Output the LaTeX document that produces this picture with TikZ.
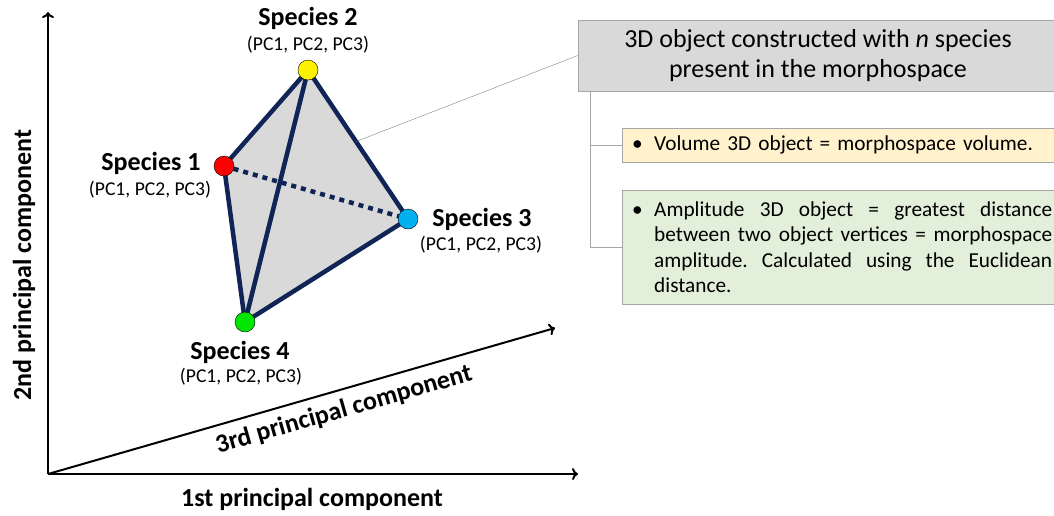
\documentclass[tikz,border=0pt]{standalone}
\usepackage{fontspec}
\setmainfont{Carlito}
\usetikzlibrary{arrows.meta,calc}
\frenchspacing
\definecolor{navy}{RGB}{16,36,86}
\definecolor{facegray}{RGB}{217,217,217}
\definecolor{boxgray}{RGB}{166,166,166}
\definecolor{notebuff}{RGB}{255,242,204}
\definecolor{notegreen}{RGB}{226,239,218}
\definecolor{spblue}{RGB}{0,176,240}
\definecolor{spgreen}{RGB}{0,230,0}
\tikzset{
  spdot/.style={circle,draw=black,thin,minimum size=20pt,inner sep=0pt},
  spname/.style={font=\fontsize{26}{28}\selectfont\bfseries},
  spcoord/.style={font=\fontsize{19.6}{21}\selectfont},
  axislabel/.style={font=\fontsize{26}{28}\selectfont\bfseries},
  edgeline/.style={draw=navy,line width=4.5pt,line cap=round,line join=round},
  notebox/.style={draw=boxgray,anchor=west,minimum width=440pt,inner xsep=10pt,inner ysep=4pt,
    text width=420pt,font=\fontsize{21.3}{25.5}\selectfont},
}
\begin{document}
\begin{tikzpicture}[x=1pt,y=-1pt]
\useasboundingbox (0,0) rectangle (1054,515);
% axes
\coordinate (o) at (48,474);
\coordinate (yend) at (48,12);
\coordinate (xend) at (578,474);
\coordinate (zend) at (555,328);
\draw[line width=2pt,-{To[length=6pt,width=12pt]}] (o) -- (yend);
\draw[line width=2pt,-{To[length=6pt,width=12pt]}] (o) -- (xend);
\draw[line width=2pt,-{To[length=6pt,width=12pt]}] (o) -- (zend);
\node[axislabel] (xlab) at (312,499) {1st principal component};
\node[axislabel,rotate=90] (ylab) at (24,265) {2nd principal component};
\node[axislabel,rotate=16] (zlab) at (344,410) {3rd principal component};
% tetrahedron
\coordinate (p1) at (224,166);
\coordinate (p2) at (308,70);
\coordinate (p3) at (408,219);
\coordinate (p4) at (245,322);
\fill[facegray] (p1) -- (p2) -- (p3) -- (p4) -- cycle;
\draw[edgeline,dash pattern=on 5pt off 5pt,line cap=butt] (p1) -- (p3);
\draw[edgeline] (p1) -- (p2) -- (p3) -- (p4) -- cycle;
\draw[edgeline] (p2) -- (p4);
\node[spdot,fill=red] (s1) at (p1) {};
\node[spdot,fill=yellow] (s2) at (p2) {};
\node[spdot,fill=spblue] (s3) at (p3) {};
\node[spdot,fill=spgreen] (s4) at (p4) {};
\node[spname] (n1) at (151,163) {Species 1};
\node[spcoord] (c1) at (150,190) {(PC1, PC2, PC3)};
\node[spname] (n2) at (308,18) {Species 2};
\node[spcoord] (c2) at (308,45) {(PC1, PC2, PC3)};
\node[spname] (n3) at (482,219) {Species 3};
\node[spcoord] (c3) at (481,245) {(PC1, PC2, PC3)};
\node[spname] (n4) at (240,352) {Species 4};
\node[spcoord] (c4) at (241,377) {(PC1, PC2, PC3)};
% boxes
\node[draw=boxgray,fill=facegray,minimum width=480pt,minimum height=71pt,align=center,
  font=\fontsize{26}{30}\selectfont] (title) at (818,55.5)
  {3D object constructed with \textit{n} species\\present in the morphospace};
\node[notebox,fill=notebuff,minimum height=34pt] (vol) at (622,145)
  {\makebox[22pt][l]{\textbullet}Volume 3D object = morphospace volume.};
\node[notebox,fill=notegreen,minimum height=114pt,align=justify] (amp) at (622,247)
  {\hyphenpenalty=10000\exhyphenpenalty=10000\tolerance=9999\hangindent=22pt\hangafter=1\makebox[22pt][l]{\textbullet}Amplitude 3D object = greatest distance between two object vertices = morphospace amplitude. Calculated using the Euclidean distance.\par};
% connectors
\coordinate (onedge) at ($(s2)!0.48!(s3)$);
\draw[gray,thin] (onedge) -- (title.west);
\coordinate (trunk) at ([xshift=12pt]title.south west);
\draw[boxgray,thin] (trunk) |- (amp.west);
\draw[boxgray,thin] (trunk |- vol.west) -- (vol.west);
\end{tikzpicture}
\end{document}
